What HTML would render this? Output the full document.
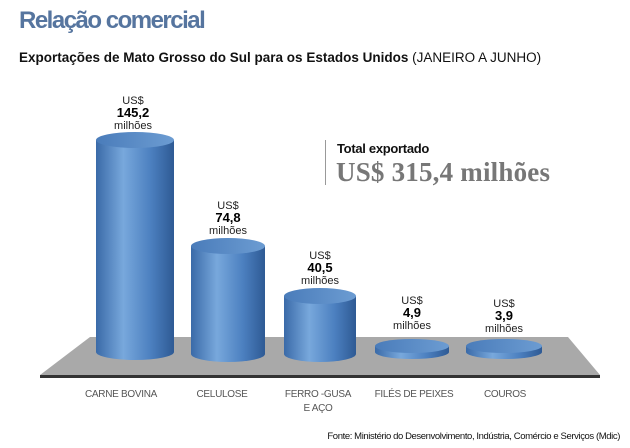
<!DOCTYPE html>
<html><head><meta charset="utf-8"><style>
body{margin:0;width:630px;height:448px;background:#fff;overflow:hidden;position:relative;font-family:"Liberation Sans",sans-serif}
.a{position:absolute;white-space:nowrap}
.v{position:absolute;text-align:center;font-size:11px;line-height:12px;color:#222;transform:translateX(-50%)}
.v b{font-size:13px;color:#000}
.l{position:absolute;font-size:10px;color:#555;text-align:center;transform:translateX(-50%);line-height:14px;letter-spacing:-0.3px}
</style></head><body>
<div class="a" style="left:19px;top:7px;font-size:24px;font-weight:bold;color:#56759f;letter-spacing:-1.5px">Relação comercial</div>
<div class="a" style="left:19px;top:50px;font-size:13.5px;color:#111;letter-spacing:0px"><b>Exportações de Mato Grosso do Sul para os Estados Unidos</b> (JANEIRO A JUNHO)</div>
<svg width="630" height="448" style="position:absolute;left:0;top:0">
<defs>
<linearGradient id="g" x1="0" x2="1"><stop offset="0" stop-color="#3a6aa8"/><stop offset=".35" stop-color="#78a8dc"/><stop offset=".7" stop-color="#4c80c0"/><stop offset="1" stop-color="#2e5a94"/></linearGradient>
<linearGradient id="t" x1="0" x2="1"><stop offset="0" stop-color="#4a7cba"/><stop offset="1" stop-color="#6c9cd2"/></linearGradient>
</defs>
<polygon points="90,337 568,337 600,375 40,375" fill="#a9a9a9"/>
<rect x="40" y="375" width="560" height="3" fill="#333"/>
<g fill="url(#g)">
<path d="M96,140 V352 A39,8 0 0 0 174,352 V140 Z"/><ellipse cx="135" cy="140" rx="39" ry="8" fill="url(#t)"/>
<path d="M191,246 V354 A37,8 0 0 0 265,354 V246 Z"/><ellipse cx="228" cy="246" rx="37" ry="8" fill="url(#t)"/>
<path d="M284,296 V354 A36,8 0 0 0 356,354 V296 Z"/><ellipse cx="320" cy="296" rx="36" ry="8" fill="url(#t)"/>
<path d="M375,346 V352 A37,7 0 0 0 449,352 V346 Z"/><ellipse cx="412" cy="346" rx="37" ry="7" fill="url(#t)"/>
<path d="M466,346 V352 A38,7 0 0 0 542,352 V346 Z"/><ellipse cx="504" cy="346" rx="38" ry="7" fill="url(#t)"/>
</g>
<rect x="325" y="140" width="1" height="45" fill="#999"/>
</svg>
<div class="v" style="left:133px;top:95px">US$<br><b>145,2</b><br>milhões</div>
<div class="v" style="left:228px;top:200px">US$<br><b>74,8</b><br>milhões</div>
<div class="v" style="left:320px;top:250px">US$<br><b>40,5</b><br>milhões</div>
<div class="v" style="left:412px;top:295px">US$<br><b>4,9</b><br>milhões</div>
<div class="v" style="left:504px;top:298px">US$<br><b>3,9</b><br>milhões</div>
<div class="a" style="left:337px;top:141px;font-size:13px;font-weight:bold;color:#111;letter-spacing:-0.3px">Total exportado</div>
<div class="a" style="left:336px;top:157px;font-size:27px;font-weight:bold;color:#777;font-family:'Liberation Serif',serif;letter-spacing:0.2px">US$ 315,4 milhões</div>
<div class="l" style="left:121px;top:388px">CARNE BOVINA</div>
<div class="l" style="left:222px;top:388px">CELULOSE</div>
<div class="l" style="left:318px;top:388px">FERRO -GUSA<br>E AÇO</div>
<div class="l" style="left:414px;top:388px">FILÉS DE PEIXES</div>
<div class="l" style="left:505px;top:388px">COUROS</div>
<div class="a" style="right:10px;top:431px;font-size:9.5px;color:#111;letter-spacing:-0.4px">Fonte: Ministério do Desenvolvimento, Indústria, Comércio e Serviços (Mdic)</div>
</body></html>
